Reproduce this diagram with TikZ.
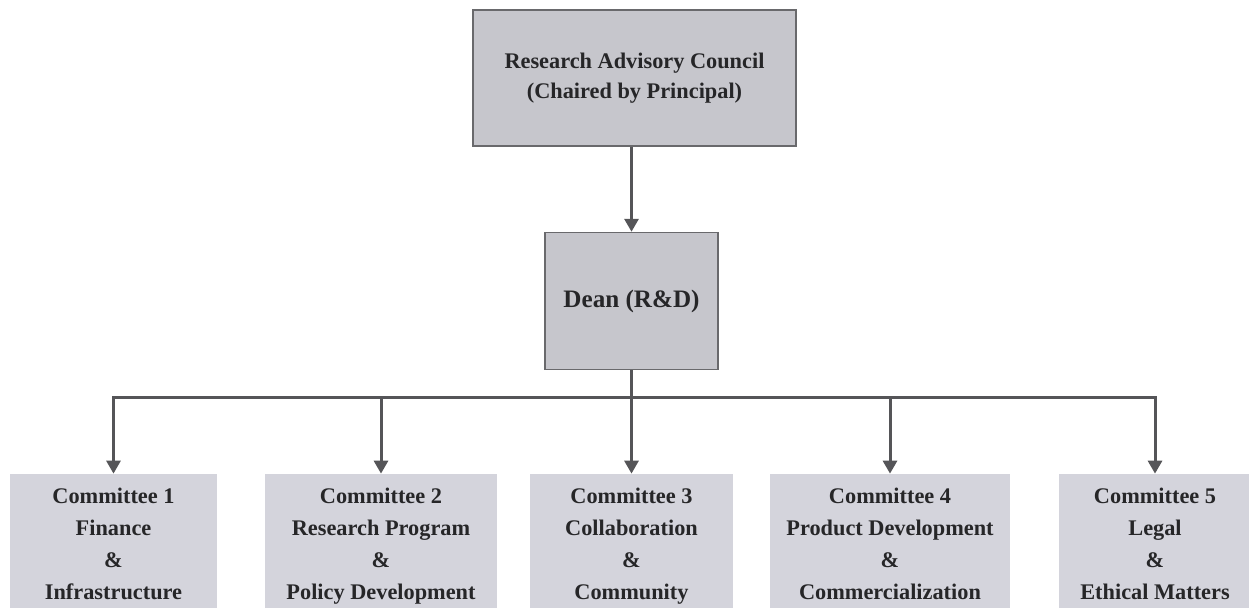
\documentclass[tikz,border=0pt]{standalone}
\usepackage{fontspec}
\setmainfont{Liberation Serif}
\usepackage{xcolor}
\usepackage{tikz}
\usetikzlibrary{positioning,arrows.meta,calc}
\definecolor{topgray}{RGB}{198,198,204}
\definecolor{comgray}{RGB}{212,212,220}
\definecolor{edgegray}{RGB}{105,105,108}
\definecolor{linegray}{RGB}{85,85,88}
\definecolor{inkgray}{RGB}{38,38,40}
\tikzset{
  head/.style ={draw=edgegray, line width=0.9pt, rectangle, align=center, fill=topgray, text=inkgray, font=\bfseries\fontsize{12.7}{17}\selectfont},
  com/.style  ={rectangle, align=center, fill=comgray, text=inkgray, minimum height=2.86cm, font=\bfseries\fontsize{12.7}{18.2}\selectfont},
  wire/.style ={draw=linegray, line width=1.7pt},
  arr/.style  ={wire, -{Triangle[length=0.26cm, width=0.28cm]}},
}

\begin{document}
\begin{tikzpicture}
  \clip (0,0) rectangle (24.98,-12.16);
  \node[head, minimum width=6.46cm, minimum height=2.72cm] (rac) at (12.69,-1.56) {Research Advisory Council\\(Chaired by Principal)};
  \node[head, below=1.7cm of rac, xshift=-0.06cm, minimum width=3.46cm, minimum height=2.74cm, font=\bfseries\fontsize{14.3}{17}\selectfont] (dean) {Dean (R\&D)};
  \draw[arr] (rac.south -| dean.north) -- (dean.north);

  % committees: \strut keeps all text blocks at the same height
  \node[com, minimum width=4.14cm] (c1) at (2.27,-10.91) {\strut Committee 1\\Finance\\\&\\Infrastructure\strut};
  \node[com, minimum width=4.64cm] (c2) at (7.62,-10.91) {\strut Committee 2\\Research Program\\\&\\Policy Development\strut};
  \node[com, minimum width=4.06cm] (c3) at (12.63,-10.91) {\strut Committee 3\\Collaboration\\\&\\Community\strut};
  \node[com, minimum width=4.80cm] (c4) at (17.80,-10.91) {\strut Committee 4\\Product Development\\\&\\Commercialization\strut};
  \node[com, minimum width=3.84cm] (c5) at (23.10,-10.91) {\strut Committee 5\\Legal\\\&\\Ethical Matters\strut};

  \coordinate (bus) at ($(dean.south)+(0,-0.54)$);
  \draw[wire] (dean.south) -- (bus);
  \draw[wire, line cap=rect] (bus -| c1.north) -- (bus -| c5.north);
  \foreach \i in {1,...,5}
    \draw[arr] (bus -| c\i.north) -- (c\i.north);
\end{tikzpicture}
\end{document}
